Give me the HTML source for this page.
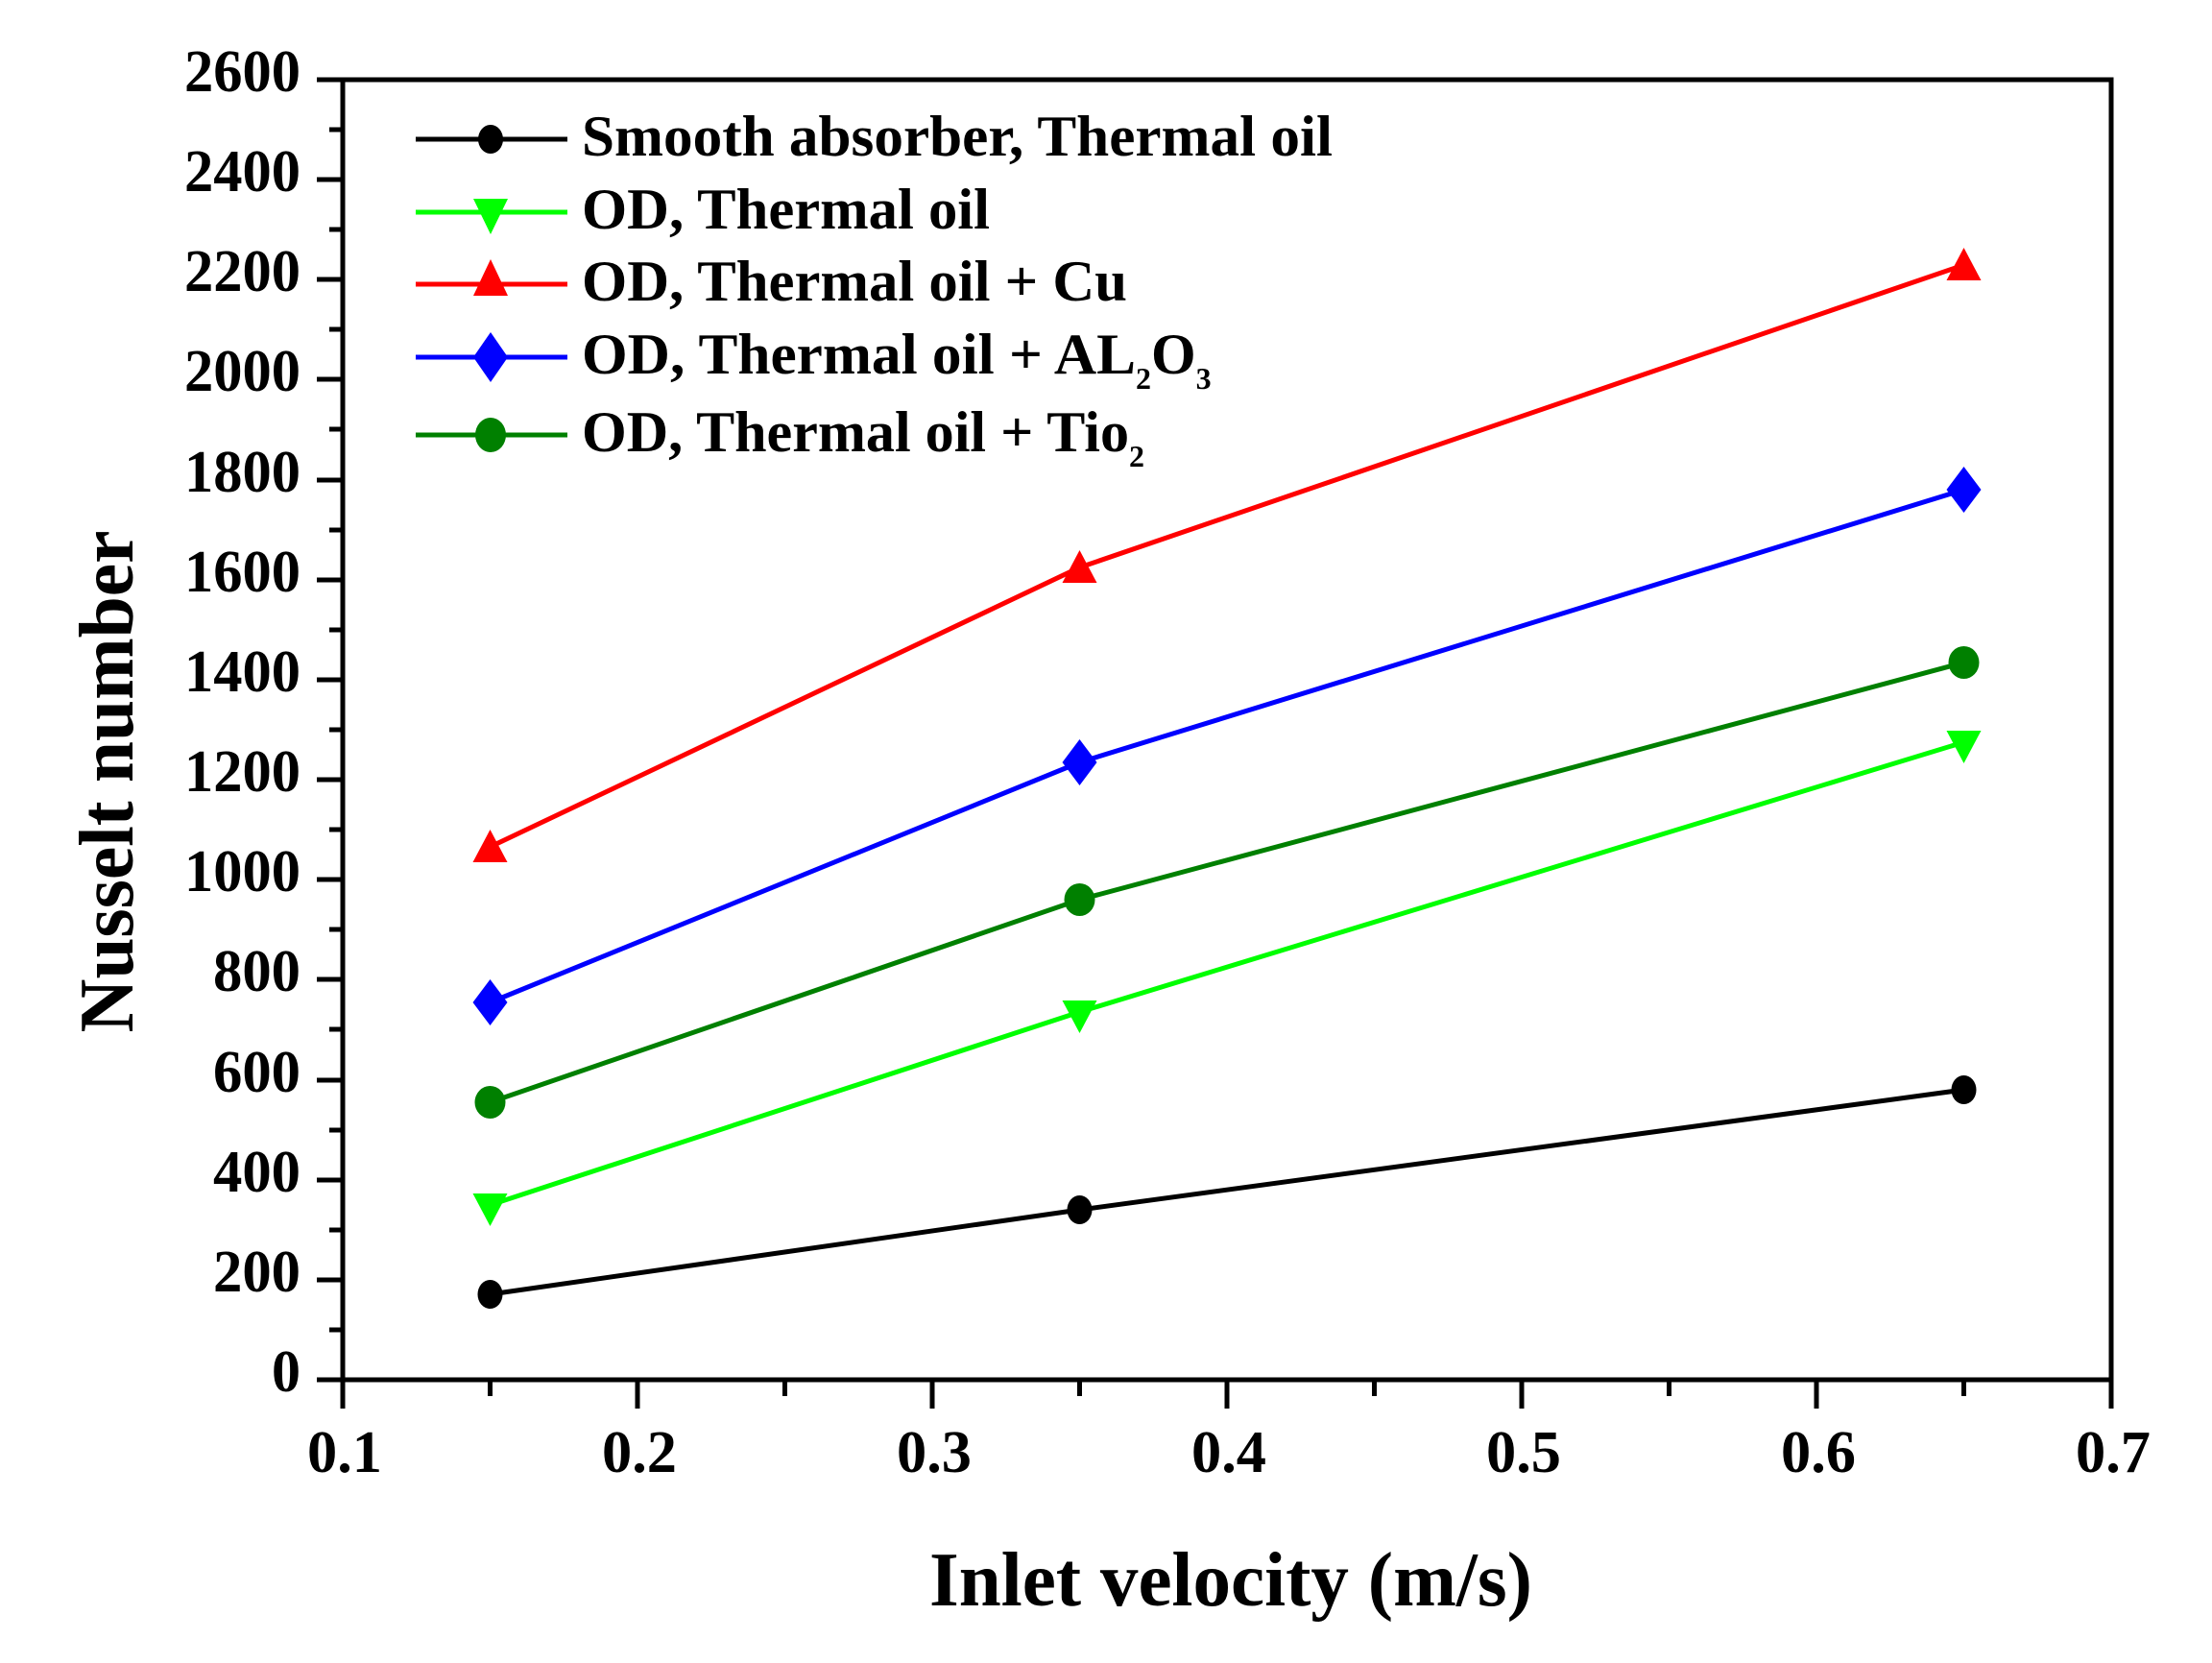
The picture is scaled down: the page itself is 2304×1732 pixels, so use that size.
<!DOCTYPE html>
<html><head><meta charset="utf-8"><style>html,body{margin:0;padding:0;background:#fff}svg{display:block}</style></head>
<body>
<svg width="2304" height="1732" viewBox="0 0 2304 1732" xmlns="http://www.w3.org/2000/svg" font-family="Liberation Serif, serif" font-weight="bold">
<rect width="2304" height="1732" fill="#fff"/>
<rect x="357" y="83" width="1842" height="1354" fill="none" stroke="#000" stroke-width="5"/>
<g stroke="#000" stroke-width="5">
<line x1="330" y1="1437" x2="357" y2="1437"/><line x1="330" y1="1333" x2="357" y2="1333"/><line x1="330" y1="1229" x2="357" y2="1229"/><line x1="330" y1="1125" x2="357" y2="1125"/><line x1="330" y1="1020" x2="357" y2="1020"/><line x1="330" y1="916" x2="357" y2="916"/><line x1="330" y1="812" x2="357" y2="812"/><line x1="330" y1="708" x2="357" y2="708"/><line x1="330" y1="604" x2="357" y2="604"/><line x1="330" y1="500" x2="357" y2="500"/><line x1="330" y1="395" x2="357" y2="395"/><line x1="330" y1="291" x2="357" y2="291"/><line x1="330" y1="187" x2="357" y2="187"/><line x1="330" y1="83" x2="357" y2="83"/>
<line x1="343" y1="1385" x2="357" y2="1385"/><line x1="343" y1="1281" x2="357" y2="1281"/><line x1="343" y1="1177" x2="357" y2="1177"/><line x1="343" y1="1072" x2="357" y2="1072"/><line x1="343" y1="968" x2="357" y2="968"/><line x1="343" y1="864" x2="357" y2="864"/><line x1="343" y1="760" x2="357" y2="760"/><line x1="343" y1="656" x2="357" y2="656"/><line x1="343" y1="552" x2="357" y2="552"/><line x1="343" y1="447" x2="357" y2="447"/><line x1="343" y1="343" x2="357" y2="343"/><line x1="343" y1="239" x2="357" y2="239"/><line x1="343" y1="135" x2="357" y2="135"/>
<line x1="357" y1="1437" x2="357" y2="1467"/><line x1="664" y1="1437" x2="664" y2="1467"/><line x1="971" y1="1437" x2="971" y2="1467"/><line x1="1278" y1="1437" x2="1278" y2="1467"/><line x1="1585" y1="1437" x2="1585" y2="1467"/><line x1="1892" y1="1437" x2="1892" y2="1467"/><line x1="2199" y1="1437" x2="2199" y2="1467"/>
<line x1="510.5" y1="1437" x2="510.5" y2="1454"/><line x1="817.5" y1="1437" x2="817.5" y2="1454"/><line x1="1124.5" y1="1437" x2="1124.5" y2="1454"/><line x1="1431.5" y1="1437" x2="1431.5" y2="1454"/><line x1="1738.5" y1="1437" x2="1738.5" y2="1454"/><line x1="2045.5" y1="1437" x2="2045.5" y2="1454"/>
</g>
<g font-size="62" text-anchor="end" fill="#000">
<text x="313" y="1449" textLength="30" lengthAdjust="spacingAndGlyphs">0</text>
<text x="313" y="1345" textLength="91" lengthAdjust="spacingAndGlyphs">200</text>
<text x="313" y="1241" textLength="91" lengthAdjust="spacingAndGlyphs">400</text>
<text x="313" y="1137" textLength="91" lengthAdjust="spacingAndGlyphs">600</text>
<text x="313" y="1032" textLength="91" lengthAdjust="spacingAndGlyphs">800</text>
<text x="313" y="928" textLength="121" lengthAdjust="spacingAndGlyphs">1000</text>
<text x="313" y="824" textLength="121" lengthAdjust="spacingAndGlyphs">1200</text>
<text x="313" y="720" textLength="121" lengthAdjust="spacingAndGlyphs">1400</text>
<text x="313" y="616" textLength="121" lengthAdjust="spacingAndGlyphs">1600</text>
<text x="313" y="512" textLength="121" lengthAdjust="spacingAndGlyphs">1800</text>
<text x="313" y="407" textLength="121" lengthAdjust="spacingAndGlyphs">2000</text>
<text x="313" y="303" textLength="121" lengthAdjust="spacingAndGlyphs">2200</text>
<text x="313" y="199" textLength="121" lengthAdjust="spacingAndGlyphs">2400</text>
<text x="313" y="95" textLength="121" lengthAdjust="spacingAndGlyphs">2600</text>
</g>
<g font-size="62" text-anchor="middle" fill="#000">
<text x="359" y="1533" textLength="78" lengthAdjust="spacingAndGlyphs">0.1</text>
<text x="666" y="1533" textLength="78" lengthAdjust="spacingAndGlyphs">0.2</text>
<text x="973" y="1533" textLength="78" lengthAdjust="spacingAndGlyphs">0.3</text>
<text x="1280" y="1533" textLength="78" lengthAdjust="spacingAndGlyphs">0.4</text>
<text x="1587" y="1533" textLength="78" lengthAdjust="spacingAndGlyphs">0.5</text>
<text x="1894" y="1533" textLength="78" lengthAdjust="spacingAndGlyphs">0.6</text>
<text x="2201" y="1533" textLength="78" lengthAdjust="spacingAndGlyphs">0.7</text>
</g>
<text x="1282" y="1672" font-size="80" text-anchor="middle" textLength="628" lengthAdjust="spacingAndGlyphs">Inlet velocity (m/s)</text>
<text transform="translate(138,814) rotate(-90)" font-size="80" text-anchor="middle" textLength="523" lengthAdjust="spacingAndGlyphs">Nusselt number</text>
<g fill="none" stroke-width="5">
<polyline stroke="#000" points="510.5,1348 1124.5,1260 2045.5,1135"/>
<polyline stroke="#00ff00" points="510.5,1255 1124.5,1054 2045.5,773"/>
<polyline stroke="#ff0000" points="510.5,882 1124.5,591 2045.5,276"/>
<polyline stroke="#0000ff" points="510.5,1044 1124.5,794 2045.5,510"/>
<polyline stroke="#008000" points="510.5,1148 1124.5,937 2045.5,690"/>
</g>
<g fill="#000"><ellipse cx="510.5" cy="1348" rx="13" ry="15"/><ellipse cx="1124.5" cy="1260" rx="13" ry="15"/><ellipse cx="2045.5" cy="1135" rx="13" ry="15"/></g>
<g fill="#00ff00"><polygon points="492.5,1243 528.5,1243 510.5,1277"/><polygon points="1106.5,1042 1142.5,1042 1124.5,1076"/><polygon points="2027.5,761 2063.5,761 2045.5,795"/></g>
<g fill="#ff0000"><polygon points="492.5,898 528.5,898 510.5,864"/><polygon points="1106.5,607 1142.5,607 1124.5,573"/><polygon points="2027.5,292 2063.5,292 2045.5,258"/></g>
<g fill="#0000ff"><polygon points="510.5,1020 528.5,1044 510.5,1068 492.5,1044"/><polygon points="1124.5,770 1142.5,794 1124.5,818 1106.5,794"/><polygon points="2045.5,486 2063.5,510 2045.5,534 2027.5,510"/></g>
<g fill="#008000"><ellipse cx="510.5" cy="1148" rx="16" ry="17"/><ellipse cx="1124.5" cy="937" rx="16" ry="17"/><ellipse cx="2045.5" cy="690" rx="16" ry="17"/></g>
<g stroke-width="5">
<line x1="433" y1="145" x2="591" y2="145" stroke="#000"/>
<line x1="433" y1="221" x2="591" y2="221" stroke="#00ff00"/>
<line x1="433" y1="296" x2="591" y2="296" stroke="#ff0000"/>
<line x1="433" y1="372" x2="591" y2="372" stroke="#0000ff"/>
<line x1="433" y1="453" x2="591" y2="453" stroke="#008000"/>
</g>
<ellipse cx="511" cy="145" rx="13" ry="15" fill="#000"/>
<polygon points="493,207 529,207 511,244" fill="#00ff00"/>
<polygon points="493,308 529,308 511,270" fill="#ff0000"/>
<polygon points="511,346 529,372 511,398 493,372" fill="#0000ff"/>
<ellipse cx="511" cy="453" rx="16" ry="18" fill="#008000"/>
<g font-size="60" fill="#000">
<text x="606" y="162" textLength="782" lengthAdjust="spacingAndGlyphs">Smooth absorber, Thermal oil</text>
<text x="606" y="238" textLength="425" lengthAdjust="spacingAndGlyphs">OD, Thermal oil</text>
<text x="606" y="313" textLength="568" lengthAdjust="spacingAndGlyphs">OD, Thermal oil + Cu</text>
<text x="606" y="389"><tspan textLength="577" lengthAdjust="spacingAndGlyphs">OD, Thermal oil + AL</tspan><tspan font-size="32" dy="16">2</tspan><tspan dy="-16">O</tspan><tspan font-size="32" dy="16">3</tspan></text>
<text x="606" y="470"><tspan textLength="570" lengthAdjust="spacingAndGlyphs">OD, Thermal oil + Tio</tspan><tspan font-size="32" dy="16">2</tspan></text>
</g>
</svg>
</body></html>
